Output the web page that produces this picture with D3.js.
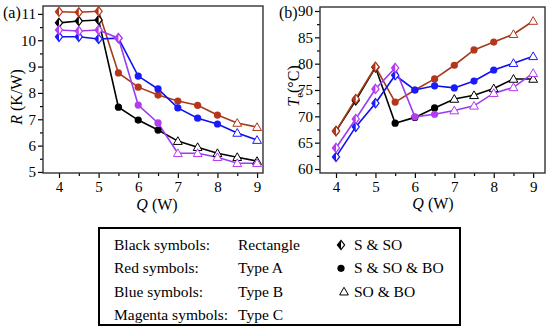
<!DOCTYPE html>
<html lang="en">
<head>
<meta charset="utf-8" />
<title>R and Te versus Q</title>
<script src="https://cdn.jsdelivr.net/npm/d3@7/dist/d3.min.js"></script>
<style>
    body { margin: 0; background: #fff; }
    .line { fill: none; stroke-width: 1.6px; }
</style>
</head>
<body>
<div id="chart"></div>
<script>
// heat load Q (W)
const qValues = [4, 4.5, 5, 5.5, 6, 6.5, 7, 7.5, 8, 8.5, 9];

// thermal resistance R (K/W)
const rRect  = [10.66, 10.73, 10.77, 7.46, 6.97, 6.59, 6.17, 5.94, 5.71, 5.56, 5.41];
const rTypeA = [11.08, 11.06, 11.10, 8.76, 8.22, 7.92, 7.69, 7.53, 7.16, 6.86, 6.70];
const rTypeB = [10.13, 10.13, 10.05, 10.08, 8.64, 8.15, 7.43, 7.04, 6.82, 6.48, 6.21];
const rTypeC = [10.39, 10.35, 10.39, 10.08, 7.54, 6.86, 5.71, 5.71, 5.56, 5.33, 5.33];

// evaporator temperature Te (°C)
const teRect  = [67.2, 73.0, 79.3, 68.7, 69.8, 71.6, 73.3, 74.0, 75.3, 77.1, 77.1];
const teTypeA = [67.2, 73.3, 79.4, 72.7, 75.0, 77.1, 79.7, 82.6, 84.1, 85.6, 88.1];
const teTypeB = [62.3, 68.0, 72.5, 77.8, 75.0, 75.8, 75.4, 76.7, 78.8, 80.1, 81.4];
const teTypeC = [64.0, 69.5, 75.2, 79.2, 69.9, 70.4, 71.1, 72.0, 74.4, 75.5, 78.2];

// operating mode per point: d = S & SO, c = S & SO & BO, t = SO & BO
const modeRect  = ['d', 'd', 'd', 'c', 'c', 'c', 't', 't', 't', 't', 't'];
const modeTypeA = ['d', 'd', 'd', 'c', 'c', 'c', 'c', 'c', 'c', 't', 't'];
const modeTypeB = ['d', 'd', 'd', 'd', 'c', 'c', 'c', 'c', 'c', 't', 't'];
const modeTypeC = ['d', 'd', 'd', 'd', 'c', 'c', 't', 't', 't', 't', 't'];

const seriesNames = ['Rectangle', 'Type A', 'Type B', 'Type C'];
const colorNames = ['Black', 'Red', 'Blue', 'Magenta'];
const modeLabels = ['S & SO', 'S & SO & BO', 'SO & BO'];

const colors = {Rectangle: '#000000', 'Type A': '#a33c17', 'Type B': '#1010ee', 'Type C': '#9a3cf2'};
const markColors = {Rectangle: '#000000', 'Type A': '#b5361a', 'Type B': '#1a1aff', 'Type C': '#b43cf0'};

const rSeries = {Rectangle: rRect, 'Type A': rTypeA, 'Type B': rTypeB, 'Type C': rTypeC};
const teSeries = {Rectangle: teRect, 'Type A': teTypeA, 'Type B': teTypeB, 'Type C': teTypeC};
const modes = {Rectangle: modeRect, 'Type A': modeTypeA, 'Type B': modeTypeB, 'Type C': modeTypeC};

const serif = 'Liberation Serif';
const width = 550, height = 331;
const svg = d3.select('#chart').append('svg')
    .attr('width', width)
    .attr('height', height)
    .attr('font-family', serif);

function drawMark(g, mode, x, y, color) {
    if (mode === 'd') {
        const w = 3.6, h = 4.6;
        g.append('path')
            .attr('d', `M${x},${y - h}L${x + w},${y}L${x},${y + h}L${x - w},${y}Z`)
            .attr('fill', '#fff').attr('stroke', color).attr('stroke-width', 1.2);
        g.append('path')
            .attr('d', `M${x},${y - h}L${x},${y + h}L${x - w},${y}Z`)
            .attr('fill', color);
    } else if (mode === 'c') {
        g.append('circle').attr('cx', x).attr('cy', y).attr('r', 3.6).attr('fill', color);
    } else {
        const s = 4.4;
        g.append('path')
            .attr('d', `M${x},${y - s}L${x + s},${y + s * 0.75}L${x - s},${y + s * 0.75}Z`)
            .attr('fill', '#fff').attr('stroke', color).attr('stroke-width', 1);
    }
}

function panel(opts) {
    const x = d3.scaleLinear().domain(opts.xDomain).range(opts.xRange);
    const y = d3.scaleLinear().domain(opts.yDomain).range(opts.yRange);
    const g = svg.append('g');

    // minor ticks
    g.append('g')
        .attr('transform', 'translate(0,' + opts.yRange[0] + ')')
        .call(d3.axisBottom(x).tickValues(d3.range(4.5, 9.01, 1)).tickSize(3).tickFormat(''))
        .call(a => a.select('.domain').remove());
    g.append('g')
        .attr('transform', 'translate(' + opts.xRange[0] + ',0)')
        .call(d3.axisLeft(y).tickValues(opts.yMinor).tickSize(3).tickFormat(''))
        .call(a => a.select('.domain').remove());

    // major ticks
    const xAxis = g.append('g')
        .attr('transform', 'translate(0,' + opts.yRange[0] + ')')
        .call(d3.axisBottom(x).tickValues(d3.range(4, 9.01, 1)).tickSize(5).tickPadding(3).tickFormat(d3.format('d')));
    const yAxis = g.append('g')
        .attr('transform', 'translate(' + opts.xRange[0] + ',0)')
        .call(d3.axisLeft(y).tickValues(opts.yTicks).tickSize(5).tickPadding(2).tickFormat(d3.format('d')));
    [xAxis, yAxis].forEach(a => {
        a.attr('font-family', serif).attr('font-size', 15);
        a.select('.domain').remove();
        a.selectAll('text').attr('fill', '#000');
    });
    g.selectAll('.tick line').attr('stroke', '#000').attr('stroke-width', 1.2);

    // frame
    g.append('rect')
        .attr('x', opts.xRange[0]).attr('y', opts.yRange[1])
        .attr('width', opts.xRange[1] - opts.xRange[0])
        .attr('height', opts.yRange[0] - opts.yRange[1])
        .attr('fill', 'none').attr('stroke', '#333').attr('stroke-width', 1.4);

    const line = d3.line()
        .x((d, i) => x(qValues[i]))
        .y(d => y(d));

    const order = ['Rectangle', 'Type A', 'Type B', 'Type C'];
    order.forEach(name => {
        g.append('path')
            .datum(opts.data[name])
            .attr('class', 'line')
            .attr('stroke', colors[name])
            .attr('d', line);
    });
    order.forEach(name => {
        const mg = g.append('g');
        opts.data[name].forEach((v, i) => {
            drawMark(mg, modes[name][i], x(qValues[i]), y(v), markColors[name]);
        });
    });

    // panel tag
    g.append('text')
        .attr('x', opts.tag[0]).attr('y', opts.tag[1])
        .attr('font-size', 16)
        .text(opts.tag[2]);

    // x label
    const xl = g.append('text')
        .attr('x', opts.xLabelPos[0]).attr('y', opts.xLabelPos[1])
        .attr('text-anchor', 'middle')
        .attr('font-size', 16);
    xl.append('tspan').attr('font-style', 'italic').text('Q');
    xl.append('tspan').text(' (W)');

    // y label
    const yl = g.append('text')
        .attr('transform', 'translate(' + opts.yLabelPos[0] + ',' + opts.yLabelPos[1] + ') rotate(-90)')
        .attr('text-anchor', 'middle')
        .attr('font-size', 16);
    opts.yLabel(yl);
}

panel({
    xDomain: [3.596, 9.15], xRange: [43, 263],
    yDomain: [4.96, 11.3], yRange: [173, 6],
    yTicks: d3.range(5, 11.01, 1), yMinor: d3.range(5.5, 11.01, 1),
    data: rSeries,
    tag: [3, 18, '(a)'],
    xLabelPos: [157, 210],
    yLabelPos: [22, 97],
    yLabel: t => {
        t.append('tspan').attr('font-style', 'italic').text('R');
        t.append('tspan').text(' (K/W)');
    }
});

panel({
    xDomain: [3.594, 9.3], xRange: [320, 545],
    yDomain: [59.24, 90.76], yRange: [173, 7],
    yTicks: d3.range(60, 90.01, 5), yMinor: d3.range(62.5, 90, 5),
    data: teSeries,
    tag: [279, 18, '(b)'],
    xLabelPos: [433, 209],
    yLabelPos: [299, 86],
    yLabel: t => {
        t.append('tspan').attr('font-style', 'italic').text('T');
        t.append('tspan').attr('dy', 4).attr('font-size', 11).text('e');
        t.append('tspan').attr('dy', -4).text('(°C)');
    }
});

// legend box
const legend = svg.append('g').attr('font-size', 15.5);
legend.append('rect')
    .attr('x', 99).attr('y', 228)
    .attr('width', 361).attr('height', 97)
    .attr('fill', 'none').attr('stroke', '#000').attr('stroke-width', 2);

const rowY = d3.scalePoint().domain(d3.range(4)).range([250, 320]);
seriesNames.forEach((name, i) => {
    legend.append('text')
        .attr('x', 114).attr('y', rowY(i))
        .text(colorNames[i] + ' symbols:');
    legend.append('text')
        .attr('x', 238).attr('y', rowY(i))
        .text(name);
});
['d', 'c', 't'].forEach((m, i) => {
    drawMark(legend, m, m === 't' ? 344 : 341, rowY(i) - 5, '#000');
    legend.append('text')
        .attr('x', 354).attr('y', rowY(i))
        .text(modeLabels[i]);
});
</script>
</body>
</html>
